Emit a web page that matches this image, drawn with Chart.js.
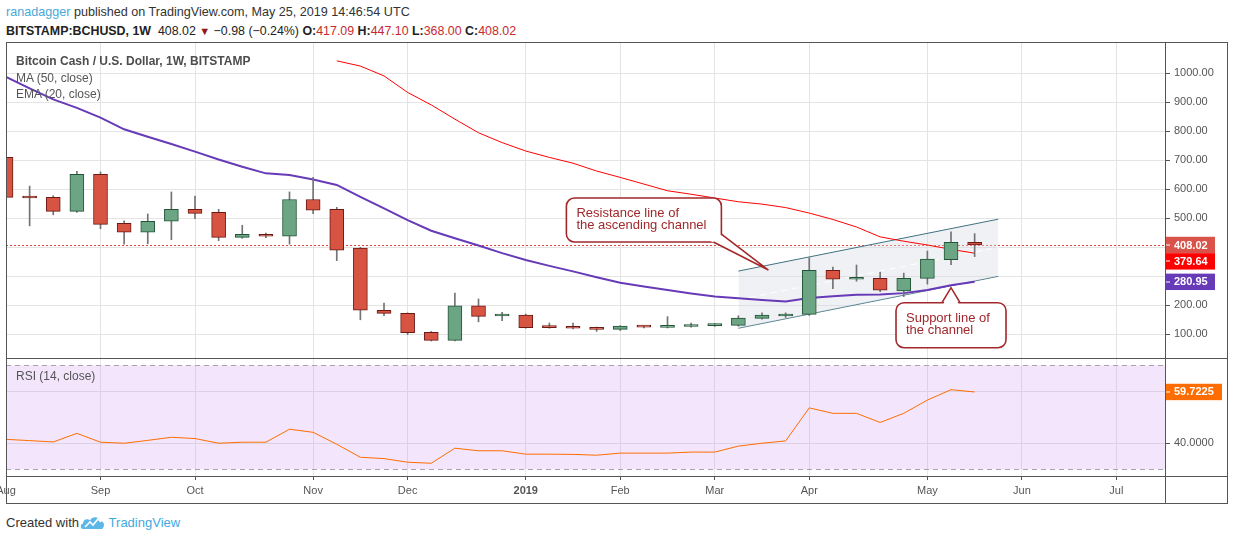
<!DOCTYPE html>
<html>
<head>
<meta charset="utf-8">
<title>BCHUSD 1W</title>
<script src="https://cdn.jsdelivr.net/npm/chart.js@4.4.1/dist/chart.umd.min.js"></script>
<style>
  body { margin: 0; width: 1234px; height: 540px; position: relative; overflow: hidden; background: #fff;
         font-family: 'Liberation Sans', Arial, sans-serif; color: #333; }
  .abs { position: absolute; white-space: nowrap; }
  #head1 { left: 6px; top: 4px; font-size: 12.6px; line-height: 16px; color: #333; }
  #head1 .user { color: #4aa8d8; }
  #head2 { left: 6px; top: 23px; font-size: 12.4px; line-height: 16px; color: #222; }
  #head2 .red { color: #c62a2f; }
  #head2 .dn { color: #8e1b1b; font-size: 11px; }
  .leg { left: 16px; font-size: 12px; line-height: 14px; color: #555; }
  #frame { left: 6px; top: 42px; width: 1220px; height: 460px; border: 1px solid #555; pointer-events: none; }
  .hsep { left: 6px; width: 1221px; height: 1px; background: #555; }
  #vsep { left: 1165px; top: 43px; width: 1px; height: 460px; background: #555; }
  #foot { left: 6px; top: 515px; font-size: 13px; line-height: 16px; color: #333; }
  #foot .tv { color: #3fa9e0; }
</style>
</head>
<body>
<div id="head1" class="abs"><span class="user">ranadagger</span> published on TradingView.com, May 25, 2019 14:46:54 UTC</div>
<div id="head2" class="abs"><b>BITSTAMP:BCHUSD, 1W</b>&nbsp; 408.02 <span class="dn">▼</span> −0.98 (−0.24%) <b>O:</b><span class="red">417.09</span> <b>H:</b><span class="red">447.10</span> <b>L:</b><span class="red">368.00</span> <b>C:</b><span class="red">408.02</span></div>

<canvas id="priceChart" class="abs" width="1234" height="315" style="left:0;top:43px"></canvas>
<canvas id="rsiChart" class="abs" width="1234" height="144" style="left:0;top:359px"></canvas>

<div class="abs leg" style="top:53.5px;font-weight:bold;color:#4d4d4d">Bitcoin Cash / U.S. Dollar, 1W, BITSTAMP</div>
<div class="abs leg" style="top:70.7px">MA (50, close)</div>
<div class="abs leg" style="top:87.3px">EMA (20, close)</div>
<div class="abs leg" style="top:368.5px">RSI (14, close)</div>

<div id="frame" class="abs"></div>
<div class="abs hsep" style="top:358px"></div>
<div class="abs hsep" style="top:476px"></div>
<div id="vsep" class="abs"></div>

<div id="foot" class="abs">Created with <span style="display:inline-block;width:26px"></span><span class="tv">TradingView</span></div>
<svg class="abs" style="left:80px;top:514px" width="26" height="18" viewBox="0 0 26 18">
  <path d="M3 15 C0 15 0 10 3 9.5 C3 5 8 4 10 6.5 C12 2 19 2 20 7 C24 7 25 11 23 14 C22.5 15 22 15 21 15 Z" fill="#5db6e8"/>
  <polyline points="5,13 10,8 13,11 18,5 21,8" fill="none" stroke="#fff" stroke-width="1.6"/>
</svg>

<script>
// weekly bars, Bitstamp BCHUSD
const weeks = ['2018-08-06', '2018-08-13', '2018-08-20', '2018-08-27', '2018-09-03', '2018-09-10', '2018-09-17', '2018-09-24',
  '2018-10-01', '2018-10-08', '2018-10-15', '2018-10-22', '2018-10-29', '2018-11-05', '2018-11-12', '2018-11-19', '2018-11-26',
  '2018-12-03', '2018-12-10', '2018-12-17', '2018-12-24', '2018-12-31', '2019-01-07', '2019-01-14', '2019-01-21', '2019-01-28',
  '2019-02-04', '2019-02-11', '2019-02-18', '2019-02-25', '2019-03-04', '2019-03-11', '2019-03-18', '2019-03-25',
  '2019-04-01', '2019-04-08', '2019-04-15', '2019-04-22', '2019-04-29', '2019-05-06', '2019-05-13', '2019-05-20'];

const open  = [710, 573, 572, 524, 652, 483, 452, 490, 531, 521, 434, 445, 438, 565, 531, 397, 183, 172, 107, 79, 198, 163,
  166, 126, 124, 121, 117, 128, 124, 127, 130, 131, 155, 163, 169, 321, 290, 293, 250, 293, 357, 417.09];
const high  = [712, 611, 578, 662, 660, 491, 515, 591, 577, 531, 476, 449, 591, 641, 538, 400, 208, 174, 110, 242, 222, 176,
  170, 139, 139, 125, 130, 130, 161, 139, 137, 164, 174, 174, 364, 332, 339, 315, 311, 387, 453, 447.10];
const low   = [570, 474, 512, 520, 464, 411, 412, 426, 499, 423, 431, 433, 411, 516, 354, 150, 164, 99, 77, 77, 143, 147,
  121, 121, 119, 110, 113, 122, 122, 125, 127, 128, 152, 158, 165, 257, 283, 247, 230, 273, 340, 368.00];
const close = [572, 570, 524, 652, 479, 452, 490, 531, 517, 434, 445, 438, 565, 528, 390, 183, 172, 106, 79, 198, 162, 167,
  123, 123, 121, 117, 128, 125, 127, 131, 133, 156, 166, 168, 321, 290, 293, 252, 293, 359, 417, 408.02];

const ma50 = [null, null, null, null, null, null, null, null, null, null, null, null, null, null,
  1043, 1025, 991, 934, 891, 842, 795, 761, 732, 710, 690, 663, 641, 618, 595, 583, 570, 557, 549, 537,
  518, 496, 470, 436, 421, 408, 393, 379.64];
const ema20 = [988, 948, 910, 881, 847, 807, 781, 756, 730, 703, 678, 655, 649, 634, 615, 574, 534, 494, 457, 431, 406, 380,
  356, 336, 317, 297, 278, 265, 253, 241, 230, 224, 218, 213, 225, 231, 236, 237, 242, 253, 269, 280.95];
const rsi = [41.5, 41.0, 40.5, 43.8, 40.4, 40.0, 41.1, 42.3, 41.8, 40.0, 40.4, 40.4, 45.4, 44.2, 39.6, 34.6, 34.1, 32.7,
  32.3, 38.1, 37.1, 37.1, 35.8, 35.8, 35.7, 35.4, 36.2, 36.2, 36.2, 36.6, 36.6, 38.9, 40.0, 40.9, 53.6, 51.5, 51.5,
  48.0, 51.5, 56.6, 60.6, 59.7225];

// ascending channel drawn on the chart (bar index, price)
const chanX = [31, 42];
const chanUpper = [318, 497];
const chanLower = [121, 300];
const chanMid = [219, 400];

// axis ticks
const monthIdx = [0, 4, 8, 13, 17, 22, 26, 30, 34, 39, 43, 47];
const monthLabels = ['Aug', 'Sep', 'Oct', 'Nov', 'Dec', '2019', 'Feb', 'Mar', 'Apr', 'May', 'Jun', 'Jul'];
const priceTicks = [100, 200, 300, 400, 500, 600, 700, 800, 900, 1000];
const rsiTicks = [40, 60];
const rsiBand = [30, 70];

const notes = [
  { text: ['Resistance line of', 'the ascending channel'], tip: [32.27, 321.7], box: [-202, -72, 155, 44], tail: [[-55, -28], [-47, -36]] },
  { text: ['Support line of', 'the channel'], tip: [40.0, 260.7], box: [-55, 15, 110, 45], tail: [[-9, 15], [9, 15]] }
];

Chart.defaults.font.family = "'Liberation Sans', Arial, sans-serif";
Chart.defaults.font.size = 11;
Chart.defaults.color = '#555';

const xMin = 0, xMax = 49.1;
const gridColor = '#e4e4e4';
const lastIdx = close.length - 1;

function monthTickBuild(scale) { scale.ticks = monthIdx.map(v => ({ value: v })); }
function noPad(scale) { scale.paddingLeft = 0; scale.paddingRight = 0; scale.paddingTop = 0; scale.paddingBottom = 0; }
function pts(arr) { return arr.map((v, i) => ({ x: i, y: v })); }

function roundRectPath(ctx, x, y, w, h, r) {
  ctx.beginPath();
  ctx.moveTo(x + r, y);
  ctx.lineTo(x + w - r, y);
  ctx.arcTo(x + w, y, x + w, y + r, r);
  ctx.lineTo(x + w, y + h - r);
  ctx.arcTo(x + w, y + h, x + w - r, y + h, r);
  ctx.lineTo(x + r, y + h);
  ctx.arcTo(x, y + h, x, y + h - r, r);
  ctx.lineTo(x, y + r);
  ctx.arcTo(x, y, x + r, y, r);
  ctx.closePath();
}

function drawNote(chart, n) {
  const ctx = chart.ctx;
  const tx = chart.scales.x.getPixelForValue(n.tip[0]);
  const ty = chart.scales.y.getPixelForValue(n.tip[1]);
  const bx = tx + n.box[0], by = ty + n.box[1], bw = n.box[2], bh = n.box[3];
  const cx = bx + bw / 2, cy = by + bh / 2;
  ctx.save();
  ctx.lineWidth = 1.6;
  ctx.strokeStyle = '#a3282c';
  ctx.fillStyle = '#fff';
  roundRectPath(ctx, bx, by, bw, bh, 8);
  ctx.fill();
  ctx.stroke();
  // tail, base pushed a little inside the box to hide the border
  const base = n.tail.map(p => {
    const px = tx + p[0], py = ty + p[1];
    const d = Math.hypot(cx - px, cy - py);
    return [px + (cx - px) / d * 2.5, py + (cy - py) / d * 2.5, px, py];
  });
  ctx.beginPath();
  ctx.moveTo(base[0][0], base[0][1]);
  ctx.lineTo(tx, ty);
  ctx.lineTo(base[1][0], base[1][1]);
  ctx.closePath();
  ctx.fill();
  ctx.beginPath();
  ctx.moveTo(base[0][2], base[0][3]);
  ctx.lineTo(tx, ty);
  ctx.lineTo(base[1][2], base[1][3]);
  ctx.stroke();
  ctx.fillStyle = '#a1282c';
  ctx.font = "13px 'Liberation Sans', Arial, sans-serif";
  ctx.textBaseline = 'middle';
  ctx.textAlign = 'left';
  n.text.forEach((t, i) => ctx.fillText(t, bx + 10, by + 15.5 + i * 11.8));
  ctx.restore();
}

function axisTag(ctx, x, yc, w, text, bg) {
  ctx.save();
  ctx.fillStyle = bg;
  ctx.fillRect(x, yc - 8.2, w, 16.4);
  ctx.fillStyle = '#fff';
  ctx.fillRect(x, Math.round(yc) - 0.5, 4, 1);
  ctx.font = "bold 11px 'Liberation Sans', Arial, sans-serif";
  ctx.textBaseline = 'middle';
  ctx.textAlign = 'left';
  ctx.fillText(text, x + 8, yc + 0.5);
  ctx.restore();
}

// last values shown on the price scale, stacked so they do not overlap
function priceTags(toPx) {
  const tags = [
    { v: close[lastIdx], bg: '#d9534a' },
    { v: ma50[lastIdx], bg: '#ff0000' },
    { v: ema20[lastIdx], bg: '#673ab7' }
  ].sort((a, b) => b.v - a.v);
  let prev = -100;
  tags.forEach(t => {
    t.yc = Math.max(toPx(t.v), prev + 16.4);
    prev = t.yc;
  });
  return tags;
}

const priceExtras = {
  id: 'priceExtras',
  beforeDatasetsDraw(chart) {
    const { ctx, chartArea: a, scales: { y } } = chart;
    const py = Math.round(y.getPixelForValue(close[lastIdx])) + 0.5;
    ctx.save();
    ctx.strokeStyle = '#e2463a';
    ctx.lineWidth = 1;
    ctx.setLineDash([2, 2]);
    ctx.beginPath();
    ctx.moveTo(a.left, py);
    ctx.lineTo(a.right, py);
    ctx.stroke();
    ctx.restore();
  },
  afterDatasetsDraw(chart) {
    notes.forEach(n => drawNote(chart, n));
  },
  afterDraw(chart) {
    const y = chart.scales.y;
    priceTags(v => y.getPixelForValue(v)).forEach(t => axisTag(chart.ctx, y.left, t.yc, 49, t.v.toFixed(2), t.bg));
  }
};

const rsiExtras = {
  id: 'rsiExtras',
  beforeDraw(chart) {
    const { ctx, chartArea: a, scales: { y } } = chart;
    const top = y.getPixelForValue(rsiBand[1]), bot = y.getPixelForValue(rsiBand[0]);
    ctx.save();
    ctx.fillStyle = '#f3e6fc';
    ctx.fillRect(a.left, top, a.right - a.left, bot - top);
    ctx.restore();
  },
  beforeDatasetsDraw(chart) {
    const { ctx, chartArea: a, scales: { y } } = chart;
    ctx.save();
    ctx.strokeStyle = '#aaa2b0';
    ctx.lineWidth = 1;
    ctx.setLineDash([5, 4]);
    rsiBand.forEach(v => {
      const py = Math.round(y.getPixelForValue(v)) + 0.5;
      ctx.beginPath();
      ctx.moveTo(a.left, py);
      ctx.lineTo(a.right, py);
      ctx.stroke();
    });
    ctx.restore();
  },
  afterDraw(chart) {
    const y = chart.scales.y;
    const v = rsi[rsi.length - 1];
    axisTag(chart.ctx, y.left, y.getPixelForValue(v), 56, v.toFixed(4), '#ff6d00');
  }
};

// candle pieces as floating bars
const wicks = close.map((c, i) => ({ x: i, y: [low[i], high[i]] }));
const bodies = close.map((c, i) => ({ x: i, y: [open[i], c] }));
const bodyFill = close.map((c, i) => c >= open[i] ? '#6ba583' : '#d75442');
const bodyLine = close.map((c, i) => c >= open[i] ? '#225437' : '#6b1a14');

new Chart(document.getElementById('priceChart'), {
  type: 'bar',
  data: {
    datasets: [
      { type: 'line', data: chanX.map((x, i) => ({ x, y: chanUpper[i] })), borderColor: '#3f7282', borderWidth: 1,
        pointRadius: 0, fill: '+1', backgroundColor: 'rgba(214,219,227,0.38)', order: 20 },
      { type: 'line', data: chanX.map((x, i) => ({ x, y: chanLower[i] })), borderColor: '#3f7282', borderWidth: 1,
        pointRadius: 0, fill: false, order: 20 },
      { type: 'line', data: chanX.map((x, i) => ({ x, y: chanMid[i] })), borderColor: '#ffffff', borderWidth: 1,
        borderDash: [6, 5], pointRadius: 0, fill: false, order: 19 },
      { type: 'line', data: pts(ma50), borderColor: '#ff0000', borderWidth: 1, pointRadius: 0, fill: false, order: 8 },
      { type: 'line', data: pts(ema20), borderColor: '#673ab7', borderWidth: 2, pointRadius: 0, fill: false, order: 7 },
      { data: wicks, backgroundColor: '#737375', barThickness: 1, grouped: false, order: 2 },
      { data: bodies, backgroundColor: bodyFill, borderColor: bodyLine, borderWidth: 1, borderSkipped: false,
        barThickness: 14, minBarLength: 2, grouped: false, order: 1 }
    ]
  },
  options: {
    responsive: false,
    animation: false,
    events: [],
    layout: { padding: { left: 6, right: 7, top: 0, bottom: 0 } },
    plugins: { legend: { display: false }, tooltip: { enabled: false } },
    scales: {
      x: {
        type: 'linear', min: xMin, max: xMax, offset: false,
        afterBuildTicks: monthTickBuild,
        afterFit: s => { noPad(s); s.height = 0; },
        ticks: { display: false },
        grid: { color: gridColor, drawTicks: false, offset: false },
        border: { display: false }
      },
      y: {
        type: 'linear', position: 'right', min: 18.3, max: 1104.5,
        afterBuildTicks: s => { s.ticks = priceTicks.map(v => ({ value: v })); },
        afterFit: s => { noPad(s); s.width = 61; },
        ticks: {
          // hide the tick labels that sit under the last-value tags (layout is not done yet, so map by hand)
          callback: function (v) {
            const h = this.chart.height, lo = this.min, hi = this.max;
            const toPx = val => (hi - val) / (hi - lo) * h;
            return priceTags(toPx).some(t => Math.abs(t.yc - toPx(v)) < 15) ? '' : v.toFixed(2);
          },
          padding: 4, color: '#555'
        },
        grid: { color: gridColor, tickLength: 4, tickColor: '#555' },
        border: { display: false }
      }
    }
  },
  plugins: [priceExtras]
});

new Chart(document.getElementById('rsiChart'), {
  type: 'line',
  data: {
    datasets: [
      { data: pts(rsi), borderColor: '#ff6d00', borderWidth: 1, pointRadius: 0, tension: 0, fill: false }
    ]
  },
  options: {
    responsive: false,
    animation: false,
    events: [],
    layout: { padding: { left: 6, right: 7, top: 0, bottom: 0 } },
    plugins: { legend: { display: false }, tooltip: { enabled: false } },
    scales: {
      x: {
        type: 'linear', min: xMin, max: xMax, offset: false,
        afterBuildTicks: monthTickBuild,
        afterFit: s => { noPad(s); s.height = 27; },
        ticks: {
          callback: v => monthLabels[monthIdx.indexOf(v)],
          padding: 4, maxRotation: 0, autoSkip: false, color: '#555',
          font: c => (c.tick && c.tick.value === 22) ? { weight: 'bold', size: 11 } : { size: 11 }
        },
        grid: { color: 'rgba(90,60,110,0.13)', tickLength: 4, tickColor: '#555', offset: false },
        border: { display: false }
      },
      y: {
        type: 'linear', position: 'right', min: 27.4, max: 72.4,
        afterBuildTicks: s => { s.ticks = rsiTicks.map(v => ({ value: v })); },
        afterFit: s => { noPad(s); s.width = 61; },
        ticks: { callback: v => v === 40 ? v.toFixed(4) : '', padding: 4, color: '#555' },
        grid: { color: '#dcd0e4', tickLength: 4, tickColor: '#555' },
        border: { display: false }
      }
    }
  },
  plugins: [rsiExtras]
});
</script>
</body>
</html>
